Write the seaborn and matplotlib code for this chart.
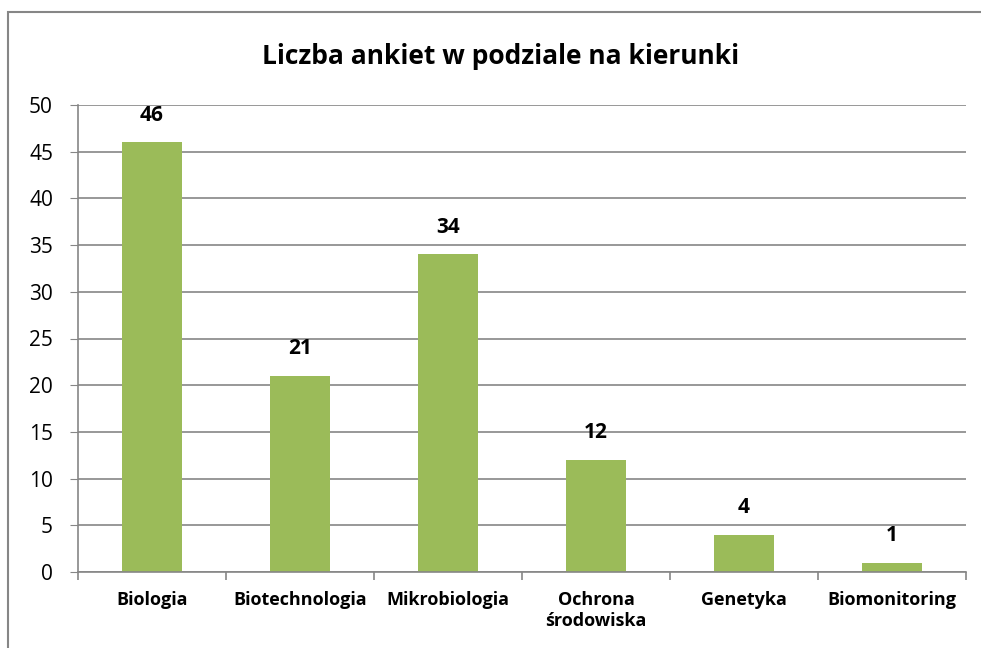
import matplotlib
matplotlib.use('Agg')
import matplotlib.pyplot as plt
import seaborn as sns
import pandas as pd
import numpy as np
from matplotlib.patches import Rectangle

# data
kierunki = ['Biologia', 'Biotechnologia', 'Mikrobiologia', 'Ochrona\nśrodowiska', 'Genetyka', 'Biomonitoring']
liczba = [46, 21, 34, 12, 4, 1]

df = pd.DataFrame({'kierunek': kierunki, 'liczba': liczba})

sns.set_style('white')
plt.rcParams['font.family'] = ['Open Sans', 'DejaVu Sans']
plt.rcParams['text.color'] = 'black'
plt.rcParams['xtick.color'] = 'black'
plt.rcParams['ytick.color'] = 'black'

fig = plt.figure(figsize=(9.81, 6.48), dpi=100)
ax = fig.add_axes([78 / 981, 1 - 572 / 648, (966 - 78) / 981, (572 - 105) / 648])

sns.barplot(data=df, x='kierunek', y='liczba', color='#9BBB59', width=0.4,
            saturation=1, linewidth=0, ax=ax)

ax.set_ylim(0, 50)
ax.set_xlim(-0.5, len(kierunki) - 0.5)
ax.set_yticks(np.arange(0, 51, 5))
ax.yaxis.grid(True, color='#868686', linewidth=1.2)
ax.set_axisbelow(True)
ax.set_xlabel('')
ax.set_ylabel('')

# value labels
for i, v in enumerate(liczba):
    ax.text(i, v + 1.8, str(v), ha='center', va='bottom', fontsize=15, fontweight='bold')

# title is centred on the whole chart box, not on the plot area
fig.text(501 / 981, 1 - 64 / 648, 'Liczba ankiet w podziale na kierunki', ha='center', va='baseline',
         fontsize=19, fontweight='bold')

# axis styling
for s in ['top', 'right']:
    ax.spines[s].set_visible(False)
for s in ['left', 'bottom']:
    ax.spines[s].set_color('#868686')
    ax.spines[s].set_linewidth(1.2)

ax.tick_params(axis='y', which='major', left=True, length=6, color='#868686', labelcolor='black',
               labelsize=15, pad=12)
ax.tick_params(axis='x', which='major', bottom=False, labelcolor='black', labelsize=13, pad=10)
for lab in ax.get_xticklabels():
    lab.set_fontweight('bold')
ax.set_xticks(np.arange(-0.5, len(kierunki), 1), minor=True)
ax.tick_params(axis='x', which='minor', bottom=True, length=6, color='#868686', width=1.2)

# outer chart border
fig.patches.append(Rectangle((8 / 981, -0.1), 1.2, 1 - 12 / 648 + 0.1, transform=fig.transFigure,
                             fill=False, edgecolor='#868686', linewidth=1.5))

fig.savefig('out.png', dpi=100)
